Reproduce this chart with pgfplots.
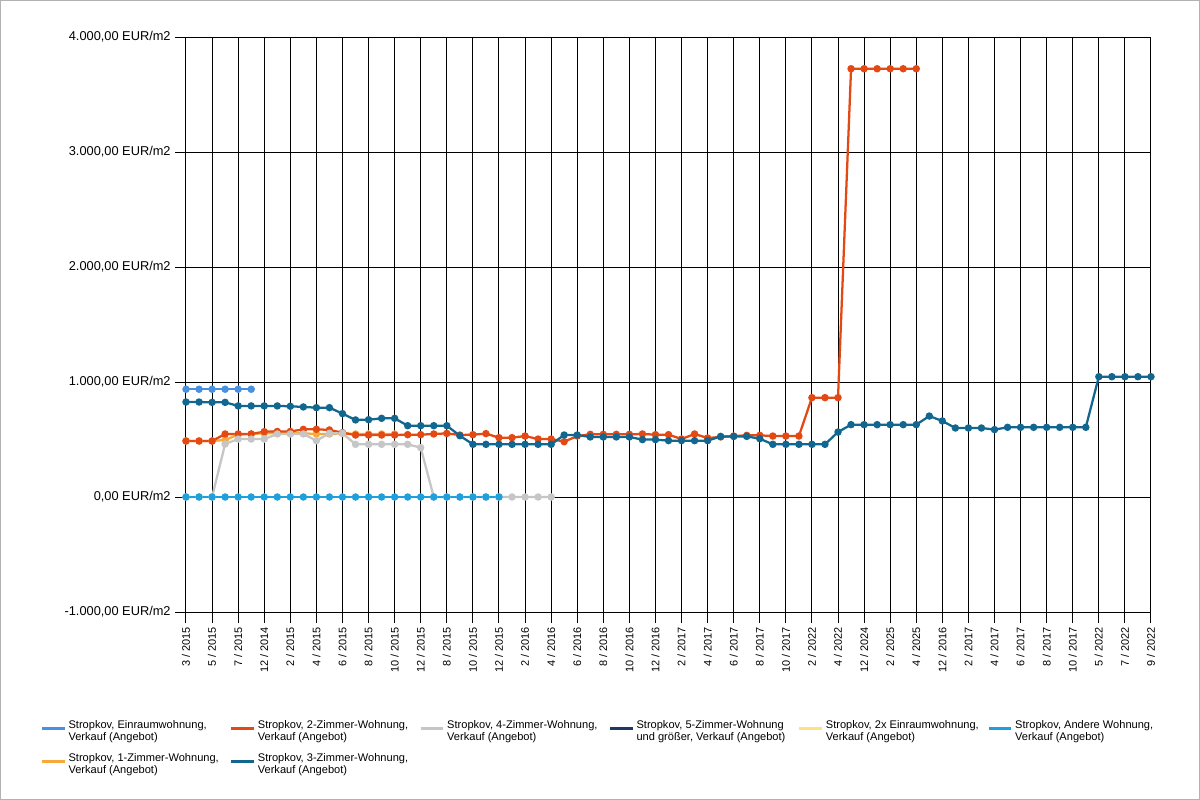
\documentclass[border=0pt]{standalone}
\usepackage{pgfplots}
\pgfplotsset{compat=1.18}
\usepackage{fontspec}
\setmainfont{Liberation Sans}

\definecolor{cEinraum}{RGB}{74,144,226}
\definecolor{cEins}{RGB}{247,170,59}
\definecolor{cZwei}{RGB}{228,72,19}
\definecolor{cDrei}{RGB}{17,103,143}
\definecolor{cVier}{RGB}{198,198,198}
\definecolor{cFuenf}{RGB}{32,56,100}
\definecolor{cZweiX}{RGB}{255,224,130}
\definecolor{cAndere}{RGB}{30,160,220}

\newcommand{\lentry}[2]{\parbox[c]{119pt}{#1\\#2}}

\begin{document}
\begin{tikzpicture}[x=0.75pt,y=0.75pt]
\fill[white] (0,0) rectangle (1200,800);
\draw[gray!60, line width=0.75pt] (0.5,0.5) rectangle (1199.5,799.5);
\path[use as bounding box] (0,0) rectangle (1200,800);
\begin{axis}[
    at={(139.5pt,141pt)}, anchor=south west,
    scale only axis, width=723.75pt, height=431.25pt,
    xmin=0, xmax=74, ymin=-1000, ymax=4000,
    clip=false,
    xtick={0,2,...,74},
    xticklabels={3 / 2015,5 / 2015,7 / 2015,12 / 2014,2 / 2015,4 / 2015,6 / 2015,8 / 2015,10 / 2015,12 / 2015,8 / 2015,10 / 2015,12 / 2015,2 / 2016,4 / 2016,6 / 2016,8 / 2016,10 / 2016,12 / 2016,2 / 2017,4 / 2017,6 / 2017,8 / 2017,10 / 2017,2 / 2022,4 / 2022,12 / 2024,2 / 2025,4 / 2025,12 / 2016,2 / 2017,4 / 2017,6 / 2017,8 / 2017,10 / 2017,5 / 2022,7 / 2022,9 / 2022},
    ytick={-1000,0,1000,2000,3000,4000},
    yticklabels={{-1.000,00 EUR/m2},{0,00 EUR/m2},{1.000,00 EUR/m2},{2.000,00 EUR/m2},{3.000,00 EUR/m2},{4.000,00 EUR/m2}},
    grid=major,
    major grid style={black, line width=0.75pt},
    axis line style={black, line width=0.75pt},
    tick style={black, line width=0.75pt},
    tick align=outside, major tick length=8pt,
    xtick pos=bottom, ytick pos=left,
    x tick label style={rotate=90, anchor=east, font=\fontsize{8.2}{9}\selectfont},
    y tick label style={font=\fontsize{9.6}{11}\selectfont},
    legend columns=6,
    legend cell align=left,
    legend style={at={(-0.151,-0.183)}, anchor=north west, draw=none, fill=none,
        inner sep=0pt, column sep=0pt, row sep=9pt,
        font=\fontsize{8.3}{9.3}\selectfont},
    legend image code/.code={\draw[#1, mark=none] (0pt,0pt) -- (17pt,0pt);},
    ser/.style={line width=1.7pt, mark=*, mark size=1.9pt, forget plot},
]
% Einraumwohnung
\addplot[ser, cEinraum] coordinates {(0,937)(1,937)(2,937)(3,937)(4,937)(5,937)};
% 1-Zimmer
\addplot[ser, cEins] coordinates {(0,487)(1,487)(2,487)(3,496)(4,542)(5,548)(6,554)(7,554)(8,554)(9,554)(10,548)(11,548)(12,554)(13,548)(14,548)(15,548)(16,548)};
% 2-Zimmer
\addplot[ser, cZwei] coordinates {(0,487)(1,487)(2,487)(3,548)(4,548)(5,548)(6,568)(7,570)(8,570)(9,588)(10,589)(11,583)(12,559)(13,539)(14,539)(15,539)(16,539)(17,542)(18,542)(19,548)(20,553)(21,539)(22,542)(23,551)(24,516)(25,516)(26,530)(27,504)(28,504)(29,481)(30,530)(31,545)(32,545)(33,545)(34,545)(35,548)(36,542)(37,542)(38,504)(39,548)(40,513)(41,522)(42,530)(43,536)(44,536)(45,530)(46,530)(47,530)(48,864)(49,864)(50,864)(51,3724)(52,3724)(53,3724)(54,3724)(55,3724)(56,3724)};
% 3-Zimmer
\addplot[ser, cDrei] coordinates {(0,826)(1,826)(2,823)(3,823)(4,792)(5,792)(6,792)(7,792)(8,789)(9,783)(10,777)(11,777)(12,725)(13,670)(14,672)(15,684)(16,684)(17,620)(18,620)(19,620)(20,620)(21,533)(22,458)(23,458)(24,458)(25,458)(26,458)(27,458)(28,458)(29,539)(30,539)(31,522)(32,522)(33,522)(34,522)(35,499)(36,499)(37,490)(38,490)(39,490)(40,490)(41,527)(42,527)(43,527)(44,507)(45,458)(46,458)(47,458)(48,458)(49,458)(50,565)(51,629)(52,629)(53,629)(54,629)(55,629)(56,629)(57,704)(58,661)(59,600)(60,600)(61,600)(62,586)(63,606)(64,606)(65,606)(66,606)(67,606)(68,606)(69,606)(70,1046)(71,1046)(72,1046)(73,1046)(74,1046)};
% 4-Zimmer
\addplot[ser, cVier] coordinates {(0,0)(1,0)(2,0)(3,461)(4,504)(5,504)(6,504)(7,548)(8,548)(9,548)(10,490)(11,554)(12,554)(13,458)(14,458)(15,458)(16,458)(17,458)(18,429)(19,0)(20,0)(21,0)(22,0)(23,0)(24,0)(25,0)(26,0)(27,0)(28,0)};
% Andere Wohnung
\addplot[ser, cAndere] coordinates {(0,0)(1,0)(2,0)(3,0)(4,0)(5,0)(6,0)(7,0)(8,0)(9,0)(10,0)(11,0)(12,0)(13,0)(14,0)(15,0)(16,0)(17,0)(18,0)(19,0)(20,0)(21,0)(22,0)(23,0)(24,0)};

\addlegendimage{cEinraum, line width=2pt}
\addlegendentry{\lentry{Stropkov, Einraumwohnung,}{Verkauf (Angebot)}}
\addlegendimage{cZwei, line width=2pt}
\addlegendentry{\lentry{Stropkov, 2-Zimmer-Wohnung,}{Verkauf (Angebot)}}
\addlegendimage{cVier, line width=2pt}
\addlegendentry{\lentry{Stropkov, 4-Zimmer-Wohnung,}{Verkauf (Angebot)}}
\addlegendimage{cFuenf, line width=2pt}
\addlegendentry{\lentry{Stropkov, 5-Zimmer-Wohnung}{und größer, Verkauf (Angebot)}}
\addlegendimage{cZweiX, line width=2pt}
\addlegendentry{\lentry{Stropkov, 2x Einraumwohnung,}{Verkauf (Angebot)}}
\addlegendimage{cAndere, line width=2pt}
\addlegendentry{\lentry{Stropkov, Andere Wohnung,}{Verkauf (Angebot)}}
\addlegendimage{cEins, line width=2pt}
\addlegendentry{\lentry{Stropkov, 1-Zimmer-Wohnung,}{Verkauf (Angebot)}}
\addlegendimage{cDrei, line width=2pt}
\addlegendentry{\lentry{Stropkov, 3-Zimmer-Wohnung,}{Verkauf (Angebot)}}
\end{axis}
\end{tikzpicture}
\end{document}
